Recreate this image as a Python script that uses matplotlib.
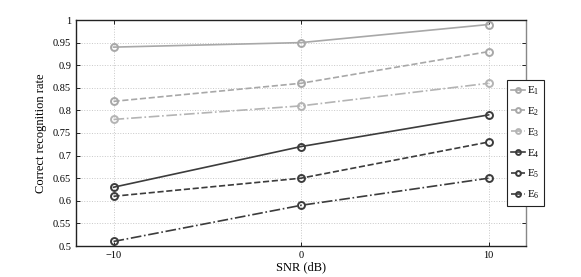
import matplotlib
matplotlib.use("Agg")
import matplotlib.pyplot as plt

plt.rcParams['font.family'] = ['Liberation Serif', 'DejaVu Serif']
plt.rcParams['mathtext.fontset'] = 'custom'
plt.rcParams['mathtext.rm'] = 'Liberation Serif'
plt.rcParams['font.size'] = 8

# --- data ---
snr = [-10, 0, 10]
labels = ["E$_1$", "E$_2$", "E$_3$", "E$_4$", "E$_5$", "E$_6$"]
e1 = [0.94, 0.95, 0.99]
e2 = [0.82, 0.86, 0.93]
e3 = [0.78, 0.81, 0.86]
e4 = [0.63, 0.72, 0.79]
e5 = [0.61, 0.65, 0.73]
e6 = [0.51, 0.59, 0.65]
series = [e1, e2, e3, e4, e5, e6]

colors = ["#a8a8a8", "#a8a8a8", "#b4b4b4", "#3c3c3c", "#3c3c3c", "#3c3c3c"]
styles = ["-", "--", "-.", "-", "--", "-."]

fig = plt.figure(figsize=(5.81, 2.77), dpi=100)
ax = fig.add_axes([76/581, 1 - 246/277, 450/581, 226/277])

for vals, lab, c, ls in zip(series, labels, colors, styles):
    ax.plot(snr, vals, linestyle=ls, color=c, marker='o', markersize=5,
            markerfacecolor='none', markeredgewidth=1.4, linewidth=1.2, label=lab)

ax.set_xlim(-12, 12)
ax.set_ylim(0.5, 1.0)
ax.set_xticks([-10, 0, 10])
ax.set_xticklabels(["\u221210", "0", "10"])
ax.set_yticks([0.5, 0.55, 0.6, 0.65, 0.7, 0.75, 0.8, 0.85, 0.9, 0.95, 1.0])
ax.set_yticklabels(["0.5", "0.55", "0.6", "0.65", "0.7", "0.75", "0.8", "0.85", "0.9", "0.95", "1"])
ax.tick_params(direction='in', length=3, width=0.6, top=True, right=True, labelsize=7.5)
ax.grid(True, linestyle=':', color='#c8c8c8', linewidth=0.7)
for s in ax.spines.values():
    s.set_linewidth(1.0)
    s.set_color('#222222')
ax.spines['right'].set_color('#888888')

ax.set_xlabel("SNR (dB)", fontsize=9, labelpad=1)
ax.set_ylabel("Correct recognition rate", fontsize=9, labelpad=4)

leg = ax.legend(loc='upper left', bbox_to_anchor=(431/450, (246 - 80)/226),
                fontsize=8, handlelength=1.2, handletextpad=0.2,
                labelspacing=0.72, borderpad=0.4, borderaxespad=0,
                fancybox=False, framealpha=1, edgecolor='#222222', markerscale=0.7)
leg.get_frame().set_linewidth(0.8)

fig.savefig("out.png", dpi=100)
